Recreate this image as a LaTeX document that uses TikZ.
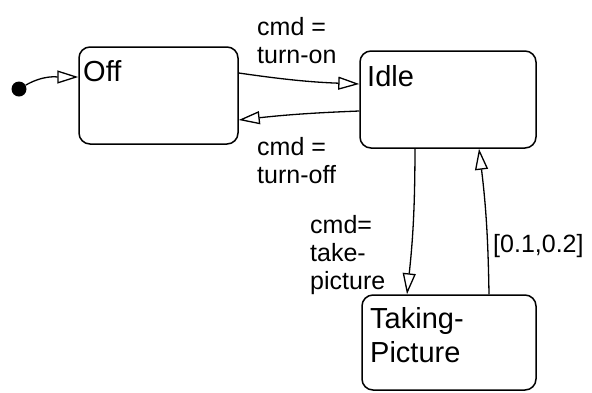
\documentclass[tikz,border=0pt]{standalone}
\usepackage{fontspec}
\setmainfont{Liberation Sans}
\usetikzlibrary{arrows.meta}
\begin{document}
\begin{tikzpicture}[x=1pt,y=-1pt,
  state/.style={draw, line width=1.5pt, rounded corners=11pt, inner sep=0pt},
  statename/.style={anchor=north west, inner sep=0pt, align=left, font=\fontsize{29}{34}\selectfont},
  guard/.style={anchor=north west, inner sep=0pt, align=left, font=\fontsize{25}{28}\selectfont},
  trans/.style={line width=1.3pt, -{Triangle[open,length=21pt,width=13pt,line width=1.3pt]}}]
\useasboundingbox (0,0) rectangle (592,392);

% states
\node[state, minimum width=159pt, minimum height=97pt] (off) at (158.5,95.5) {};
\node[state, minimum width=176pt, minimum height=97pt] (idle) at (448,99.5) {};
\node[state, minimum width=174pt, minimum height=95pt] (tp) at (449,342.5) {};

\node[statename] (offname) at (83,60) {Off};
\node[statename] (idlename) at (367,65) {Idle};
\node[statename] (tpname) at (370,307) {Taking-\\Picture};

% initial pseudostate
\node[circle, fill, inner sep=0pt, minimum size=15pt] (init) at (19,89) {};
\draw[trans] (init) to[out=30,in=180] ([yshift=18.5pt]off.west);

% transitions
\draw[trans] ([yshift=22.5pt]off.east) to[bend right=3] ([yshift=15.5pt]idle.west);
\draw[trans] ([yshift=-11.5pt]idle.west) to[bend right=2] ([yshift=-24.5pt]off.east);
\draw[trans] ([xshift=-33pt]idle.south) to[bend left=3] ([xshift=-42pt]tp.north);
\draw[trans] ([xshift=40pt]tp.north) to[bend right=3] ([xshift=31pt]idle.south);

% guards and triggers
\node[guard] (lon) at (257,17) {cmd =\\turn-on};
\node[guard] (loff) at (257,137) {cmd =\\turn-off};
\node[guard] (ltake) at (310,215) {cmd=\\take-\\picture};
\node[guard] (ltime) at (493,234) {[0.1,0.2]};
\end{tikzpicture}
\end{document}
